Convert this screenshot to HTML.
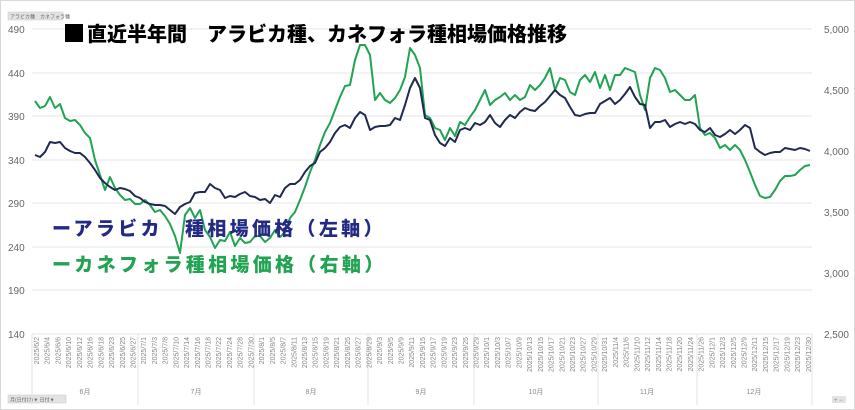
<!DOCTYPE html>
<html><head><meta charset="utf-8"><style>
body{margin:0;background:#fff;}
svg{display:block;font-family:"Liberation Sans","Noto Sans CJK JP",sans-serif;}
</style></head><body>
<svg width="855" height="410" viewBox="0 0 855 410">
<rect x="0.5" y="0.5" width="854" height="409" fill="#fff" stroke="#d9d9d9"/>
<rect x="8" y="12" width="55" height="8" fill="#e3e3e3" stroke="#c8c8c8" stroke-width="0.5"/>
<text x="10" y="18.5" font-size="5" fill="#666">アラビカ種　カネフォラ種</text>
<rect x="8" y="395" width="58" height="8" fill="#e3e3e3" stroke="#c8c8c8" stroke-width="0.5"/>
<text x="10" y="401.5" font-size="5" fill="#666">月(日付け)▼ 日付▼</text>
<rect x="832" y="396" width="14" height="7" fill="#e3e3e3"/>
<text x="834" y="402" font-size="6" fill="#888">+ −</text>
<g stroke="#e6e6e6" stroke-width="1">
<line x1="32" y1="29" x2="812" y2="29"/><line x1="32" y1="73" x2="812" y2="73"/>
<line x1="32" y1="116" x2="812" y2="116"/><line x1="32" y1="160" x2="812" y2="160"/>
<line x1="32" y1="203" x2="812" y2="203"/><line x1="32" y1="247" x2="812" y2="247"/>
<line x1="32" y1="290" x2="812" y2="290"/><line x1="32" y1="334" x2="812" y2="334"/>
</g>
<g stroke="#e3e3e3" stroke-width="1">
<line x1="32" y1="334" x2="32" y2="405"/><line x1="138" y1="334" x2="138" y2="405"/>
<line x1="254" y1="334" x2="254" y2="405"/><line x1="368" y1="334" x2="368" y2="405"/>
<line x1="474" y1="334" x2="474" y2="405"/><line x1="598" y1="334" x2="598" y2="405"/>
<line x1="697" y1="334" x2="697" y2="405"/><line x1="812" y1="334" x2="812" y2="405"/>
</g>
<g font-size="10" fill="#666">
<text x="8" y="33">490</text><text x="8" y="77">440</text><text x="8" y="120">390</text>
<text x="8" y="164">340</text><text x="8" y="207">290</text><text x="8" y="251">240</text>
<text x="8" y="294">190</text><text x="8" y="338">140</text>
</g>
<g font-size="10" fill="#666" text-anchor="end">
<text x="849" y="33">5,000</text><text x="849" y="94">4,500</text><text x="849" y="155">4,000</text>
<text x="849" y="216">3,500</text><text x="849" y="277">3,000</text><text x="849" y="338">2,500</text>
</g>
<g font-size="7" fill="#888" text-anchor="middle">
<text x="85" y="394">6月</text><text x="196" y="394">7月</text><text x="311" y="394">8月</text>
<text x="421" y="394">9月</text><text x="536" y="394">10月</text><text x="647" y="394">11月</text><text x="754" y="394">12月</text>
</g>
<g font-size="7" fill="#888" text-anchor="end">
<text transform="translate(39,337) rotate(-90)">2025/6/2</text>
<text transform="translate(49.7,337) rotate(-90)">2025/6/4</text>
<text transform="translate(60.4,337) rotate(-90)">2025/6/6</text>
<text transform="translate(71.2,337) rotate(-90)">2025/6/10</text>
<text transform="translate(81.9,337) rotate(-90)">2025/6/12</text>
<text transform="translate(92.6,337) rotate(-90)">2025/6/16</text>
<text transform="translate(103.3,337) rotate(-90)">2025/6/18</text>
<text transform="translate(114,337) rotate(-90)">2025/6/23</text>
<text transform="translate(124.8,337) rotate(-90)">2025/6/25</text>
<text transform="translate(135.5,337) rotate(-90)">2025/6/27</text>
<text transform="translate(146.2,337) rotate(-90)">2025/7/1</text>
<text transform="translate(156.9,337) rotate(-90)">2025/7/3</text>
<text transform="translate(167.6,337) rotate(-90)">2025/7/8</text>
<text transform="translate(178.4,337) rotate(-90)">2025/7/10</text>
<text transform="translate(189.1,337) rotate(-90)">2025/7/14</text>
<text transform="translate(199.8,337) rotate(-90)">2025/7/16</text>
<text transform="translate(210.5,337) rotate(-90)">2025/7/18</text>
<text transform="translate(221.2,337) rotate(-90)">2025/7/22</text>
<text transform="translate(232,337) rotate(-90)">2025/7/24</text>
<text transform="translate(242.7,337) rotate(-90)">2025/7/28</text>
<text transform="translate(253.4,337) rotate(-90)">2025/7/30</text>
<text transform="translate(264.1,337) rotate(-90)">2025/8/1</text>
<text transform="translate(274.8,337) rotate(-90)">2025/8/5</text>
<text transform="translate(285.6,337) rotate(-90)">2025/8/7</text>
<text transform="translate(296.3,337) rotate(-90)">2025/8/11</text>
<text transform="translate(307,337) rotate(-90)">2025/8/13</text>
<text transform="translate(317.7,337) rotate(-90)">2025/8/15</text>
<text transform="translate(328.4,337) rotate(-90)">2025/8/19</text>
<text transform="translate(339.2,337) rotate(-90)">2025/8/21</text>
<text transform="translate(349.9,337) rotate(-90)">2025/8/25</text>
<text transform="translate(360.6,337) rotate(-90)">2025/8/27</text>
<text transform="translate(371.3,337) rotate(-90)">2025/8/29</text>
<text transform="translate(382,337) rotate(-90)">2025/9/3</text>
<text transform="translate(392.8,337) rotate(-90)">2025/9/5</text>
<text transform="translate(403.5,337) rotate(-90)">2025/9/9</text>
<text transform="translate(414.2,337) rotate(-90)">2025/9/11</text>
<text transform="translate(424.9,337) rotate(-90)">2025/9/15</text>
<text transform="translate(435.6,337) rotate(-90)">2025/9/17</text>
<text transform="translate(446.4,337) rotate(-90)">2025/9/19</text>
<text transform="translate(457.1,337) rotate(-90)">2025/9/23</text>
<text transform="translate(467.8,337) rotate(-90)">2025/9/25</text>
<text transform="translate(478.5,337) rotate(-90)">2025/9/29</text>
<text transform="translate(489.2,337) rotate(-90)">2025/10/1</text>
<text transform="translate(500,337) rotate(-90)">2025/10/3</text>
<text transform="translate(510.7,337) rotate(-90)">2025/10/7</text>
<text transform="translate(521.4,337) rotate(-90)">2025/10/9</text>
<text transform="translate(532.1,337) rotate(-90)">2025/10/13</text>
<text transform="translate(542.8,337) rotate(-90)">2025/10/15</text>
<text transform="translate(553.6,337) rotate(-90)">2025/10/17</text>
<text transform="translate(564.3,337) rotate(-90)">2025/10/21</text>
<text transform="translate(575,337) rotate(-90)">2025/10/23</text>
<text transform="translate(585.7,337) rotate(-90)">2025/10/27</text>
<text transform="translate(596.4,337) rotate(-90)">2025/10/29</text>
<text transform="translate(607.2,337) rotate(-90)">2025/10/31</text>
<text transform="translate(617.9,337) rotate(-90)">2025/11/4</text>
<text transform="translate(628.6,337) rotate(-90)">2025/11/6</text>
<text transform="translate(639.3,337) rotate(-90)">2025/11/10</text>
<text transform="translate(650,337) rotate(-90)">2025/11/12</text>
<text transform="translate(660.8,337) rotate(-90)">2025/11/14</text>
<text transform="translate(671.5,337) rotate(-90)">2025/11/18</text>
<text transform="translate(682.2,337) rotate(-90)">2025/11/20</text>
<text transform="translate(692.9,337) rotate(-90)">2025/11/24</text>
<text transform="translate(703.6,337) rotate(-90)">2025/11/26</text>
<text transform="translate(714.4,337) rotate(-90)">2025/12/1</text>
<text transform="translate(725.1,337) rotate(-90)">2025/12/3</text>
<text transform="translate(735.8,337) rotate(-90)">2025/12/5</text>
<text transform="translate(746.5,337) rotate(-90)">2025/12/9</text>
<text transform="translate(757.2,337) rotate(-90)">2025/12/11</text>
<text transform="translate(768,337) rotate(-90)">2025/12/15</text>
<text transform="translate(778.7,337) rotate(-90)">2025/12/17</text>
<text transform="translate(789.4,337) rotate(-90)">2025/12/19</text>
<text transform="translate(800.1,337) rotate(-90)">2025/12/23</text>
<text transform="translate(810.8,337) rotate(-90)">2025/12/30</text>
</g>
<polyline fill="none" stroke="#22a352" stroke-width="2" stroke-linejoin="round" points="35,101 40,108 45,106 50,97 55,108 60,104 65,118 70,121 75,120 80,125 85,133 90,138 95,160 100,175 105,190 110,177 115,188 120,195 125,200 130,199 135,204 140,204 145,200 150,205 155,212 160,210 165,216 170,224 175,236 180,253 185,215 190,208 195,218 200,210 205,230 210,237 215,248 220,240 225,241 230,232 235,246 240,238 245,243 250,242 255,236 260,236 265,242 270,238 275,230 280,237 285,232 290,218 295,212 300,200 305,187 310,172 315,160 320,145 325,132 330,123 335,110 340,97 345,86 350,85 355,60 360,45 365,45 370,55 375,100 380,93 385,100 390,103 395,98 400,90 405,77 410,48 415,55 420,68 425,115 430,118 435,128 440,130 445,140 450,128 455,136 460,122 465,125 470,117 475,110 480,100 485,90 490,105 495,100 500,97 505,93 510,100 515,95 520,100 525,97 530,85 535,90 540,85 545,78 550,68 555,90 560,78 565,80 570,92 575,95 580,80 585,75 590,82 595,72 600,88 605,75 610,90 615,75 620,75 625,68 630,70 635,72 640,95 645,110 650,78 655,68 660,70 665,78 670,92 675,90 680,95 685,100 690,100 695,95 700,128 705,135 710,133 715,138 720,148 725,145 730,150 735,145 740,150 745,160 750,172 755,185 760,196 765,198 770,197 775,190 780,181 785,176 790,176 795,175 800,170 805,166 810,165"/>
<polyline fill="none" stroke="#1f2a4f" stroke-width="2" stroke-linejoin="round" points="35,155 40,157 45,152 50,142 55,143 60,142 65,148 70,151 75,153 80,153 85,157 90,163 95,170 100,178 105,183 110,187 115,190 120,188 125,189 130,191 135,196 140,198 145,202 150,204 155,205 160,205 165,206 170,210 175,214 180,207 185,204 190,202 195,193 200,192 205,192 210,184 215,188 220,190 225,198 230,196 235,197 240,194 245,192 250,196 255,197 260,200 265,199 270,203 275,195 280,197 285,188 290,184 295,184 300,180 305,172 310,166 315,163 320,152 325,148 330,142 335,133 340,127 345,125 350,128 355,118 360,112 365,115 370,130 375,127 380,126 385,126 390,125 395,118 400,120 405,105 410,88 415,78 420,88 425,118 430,120 435,135 440,143 445,146 450,138 455,142 460,130 465,128 470,130 475,123 480,125 485,122 490,115 495,123 500,127 505,120 510,115 515,118 520,112 525,108 530,110 535,111 540,106 545,102 550,96 555,90 560,95 565,98 570,107 575,115 580,116 585,114 590,113 595,113 600,104 605,101 610,98 615,104 620,100 625,94 630,87 635,97 640,104 645,105 650,128 655,122 660,122 665,120 670,127 675,124 680,122 685,124 690,122 695,124 700,130 705,132 710,128 715,135 720,137 725,134 730,130 735,134 740,130 745,125 750,128 755,148 760,152 765,155 770,153 775,152 780,152 785,148 790,149 795,150 800,148 805,149 810,151"/>
<rect x="65" y="24" width="18" height="18" fill="#000"/>
<text x="87" y="41" font-size="20" font-weight="900" fill="#000">直近半年間　アラビカ種、カネフォラ種相場価格推移</text>
<text x="52" y="235" font-size="19" font-weight="900" letter-spacing="3.3" fill="#232a85">ーアラビカ　種相場価格（左軸）</text>
<text x="52" y="271" font-size="19" font-weight="900" letter-spacing="3.3" fill="#22a352">ーカネフォラ種相場価格（右軸）</text>
</svg>
</body></html>
